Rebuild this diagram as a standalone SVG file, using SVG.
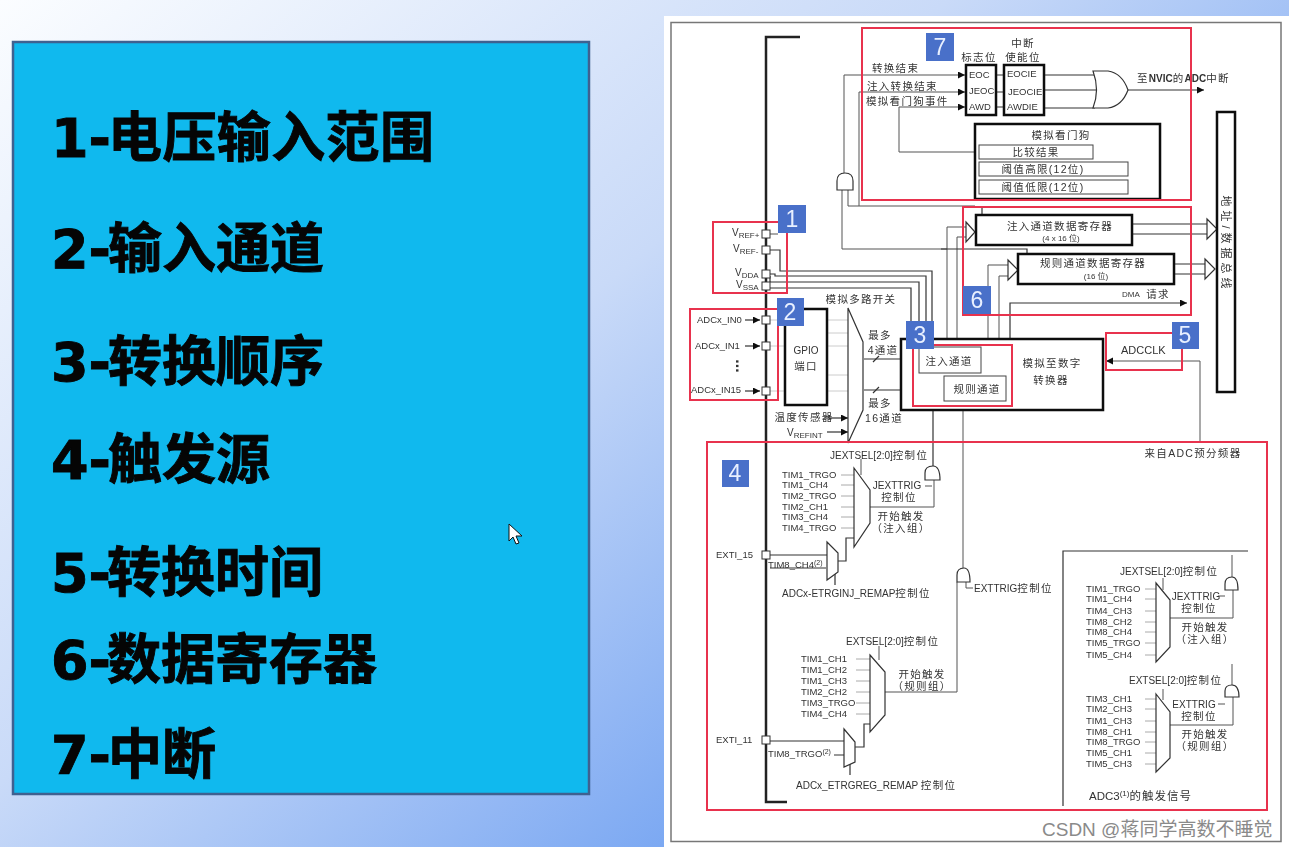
<svg xmlns="http://www.w3.org/2000/svg" width="1289" height="847" viewBox="0 0 1289 847">
<defs>
<linearGradient id="bg" gradientUnits="userSpaceOnUse" x1="0" y1="0" x2="700" y2="847"><stop offset="0" stop-color="#fbfdff"/><stop offset="0.55" stop-color="#c9daf8"/><stop offset="1" stop-color="#78a6f2"/></linearGradient>
<marker id="a" markerWidth="8" markerHeight="8" refX="7" refY="3.5" orient="auto" markerUnits="userSpaceOnUse"><path d="M0,0L7,3.5L0,7z" fill="#111"/></marker>
<filter id="soft" filterUnits="userSpaceOnUse" x="0" y="0" width="1289" height="847"><feGaussianBlur stdDeviation="0.35"/></filter>
</defs>
<style>
.h{font-family:"DejaVu Sans","Noto Sans CJK SC",sans-serif;font-weight:700;font-size:54px;fill:#050505;stroke:#050505;stroke-width:.9px}
text{font-family:"Liberation Sans","Noto Sans CJK SC",sans-serif;fill:#333}
.t{font-size:9.5px}.s{font-size:10px}
.c{font-size:10.500px;text-anchor:middle;letter-spacing:1.300px}
.e{font-size:10px;text-anchor:middle}
.z{font-size:10.500px;letter-spacing:1.300px}
.bd{font-family:"Liberation Sans",sans-serif;font-size:23px;fill:#e8f0ff;text-anchor:middle}
.r{fill:none;stroke:#e8324e;stroke-width:2}
.b{fill:#fff;stroke:#111;stroke-width:2.500}
.b1{fill:#fff;stroke:#444;stroke-width:1}
.l{fill:none;stroke:#555;stroke-width:1}
.g{fill:none;stroke:#aaa;stroke-width:1}
.f{fill:none;stroke:#ccc;stroke-width:1}
.k{fill:none;stroke:#333;stroke-width:1.200}
.bus{fill:none;stroke:#222;stroke-width:2.500}
.sq{fill:#fff;stroke:#333;stroke-width:1}
.m{fill:#fff;stroke:#333;stroke-width:1.200}
.badge{fill:#4a6fc9}
</style>
<rect width="1289" height="847" fill="url(#bg)"/>
<rect x="664" y="16" width="625" height="831" fill="#fff"/>
<rect x="671" y="22.500" width="610" height="819" fill="#fff" stroke="#777" stroke-width="1.500"/>
<g id="panel">
<rect x="13" y="42" width="576" height="752" fill="#10b9ee" stroke="#3f6190" stroke-width="2.500"/>
<text class="h" x="51" y="157">1-<tspan dx="-3" style="letter-spacing:.4px">电压输入范围</tspan></text>
<text class="h" x="51" y="268">2-<tspan dx="-3">输入通道</tspan></text>
<text class="h" x="51" y="381">3-<tspan dx="-3">转换顺序</tspan></text>
<text class="h" x="51" y="479">4-<tspan dx="-3">触发源</tspan></text>
<text class="h" x="51" y="592">5-<tspan dx="-4">转换时间</tspan></text>
<text class="h" x="51" y="679">6-<tspan dx="-4">数据寄存器</tspan></text>
<text class="h" x="51" y="774">7-<tspan dx="-3">中断</tspan></text>
</g>
<path id="cursor" d="M509,524V541L513,537L516,544L519,543L516,536L522,536z" fill="#fff" stroke="#111"/>
<g id="diagram" filter="url(#soft)">
<g id="connectors">
<path class="bus" d="M800,37H766V802H787"/>
<path class="l" marker-end="url(#a)" d="M844,173V75H965"/>
<path class="l" marker-end="url(#a)" d="M859,206V92H965"/>
<path class="l" marker-end="url(#a)" d="M977,152H899V107H965"/>
<path class="l" d="M842,190V249H947"/>
<path class="l" d="M848,190V206H975"/>
<path class="k" d="M996,75H1004M996,92H1004M996,107H1004"/>
<path class="k" d="M1044,75H1095M1044,90H1098M1044,108H1095"/>
<path class="k" marker-end="url(#a)" d="M1128,90H1204"/>
<path class="k" d="M1132,224H1207M1132,234H1207"/>
<path class="k" d="M1174,264H1206M1174,274H1206"/>
<path class="m" d="M1207,219L1217,229L1207,239z"/>
<path class="m" d="M1205,259L1215,269L1205,279z"/>
<path class="l" d="M947,340V227H966M957,340V237H966"/>
<path class="m" d="M966,222L975,232L966,242z"/>
<path class="l" d="M988,376V265H1008M999,376V276H1008"/>
<path class="m" d="M1008,260L1018,270L1008,280z"/>
<path class="k" d="M941,249H1027V254"/>
<path class="k" d="M982,207V215"/>
<path class="k" marker-end="url(#a)" d="M1010,339V303H1187"/>
<path class="l" marker-end="url(#a)" d="M1200,443V361H1106"/>
<path class="l" d="M770,234H778"/>
<path class="k" d="M770,250H780V271H932V340M770,274H775V276H926V340M770,276V282H919V340M770,288H911V340"/>
<path class="f" d="M770,320H785M770,346H785M770,391H785M827,320H848M827,333H848M827,346H848M827,375H848M827,391H848"/>
<path class="k" marker-end="url(#a)" d="M864,359H918"/>
<path class="k" marker-end="url(#a)" d="M864,390H944"/>
<path class="k" d="M873,362L879,356M873,393L879,387"/>
<path class="k" marker-end="url(#a)" d="M745,320H760"/>
<path class="k" marker-end="url(#a)" d="M745,346H760"/>
<path class="k" marker-end="url(#a)" d="M745,391H760"/>
<path class="k" marker-end="url(#a)" d="M825,418H848"/>
<path class="k" marker-end="url(#a)" d="M827,432H848"/>
<path class="k" marker-end="url(#a)" d="M933,466V373"/>
<path class="l" marker-end="url(#a)" d="M963,570V401"/>
<path class="l" d="M870,507H934V480M925,486H932M861,459V475"/>
<path class="k" d="M770,555H827M770,568H826M838,561H846V538H854M835,572V585"/>
<path class="g" d="M841,475H854M841,485H854M841,496H854M841,507H854M841,517H854M841,528H854"/>
<path class="l" d="M957,582V692H885M966,582V588H973M879,646V660"/>
<path class="g" d="M856,659H870M856,670H870M856,681H870M856,692H870M856,703H870M856,714H870"/>
<path class="k" d="M770,741H844M834,755H844M855,747H864V724H870M850,762V775"/>
<path class="k" d="M1063,806V551H1248"/>
<path class="l" d="M1232,555V577M1233,590V618H1170M1225,596H1218M1163,578V590"/>
<path class="g" d="M1145,589H1156M1145,599H1156M1145,611H1156M1145,622H1156M1145,632H1156M1145,643H1156M1145,655H1156"/>
<path class="l" d="M1232,664V685M1233,697V725H1170M1225,704H1218M1163,689V700"/>
<path class="g" d="M1145,699H1156M1145,709H1156M1145,721H1156M1145,732H1156M1145,742H1156M1145,753H1156M1145,764H1156"/>
</g>
<g id="gates">
<path class="m" d="M837,190V181Q837,173 845,173Q853,173 853,181V190z"/>
<path class="m" d="M925,480V473Q925,466 933,466Q940,466 940,480z"/>
<path class="m" d="M957,582V575Q957,568 964,568Q970,568 970,582z"/>
<path class="m" d="M1225,590V584Q1225,577 1232,577Q1238,577 1238,590z"/>
<path class="m" d="M1225,697V691Q1225,685 1232,685Q1239,685 1239,697z"/>
<path class="m" d="M1093,71H1108Q1122,73 1128,90Q1122,106 1108,108H1093Q1100,90 1093,71z"/>
</g>
<g id="mux">
<path class="m" d="M848,308L863,342V410L848,443z"/>
<path class="m" d="M854,468L870,490V523L854,547z"/>
<path class="m" d="M827,542L838,553V572L827,580z"/>
<path class="m" d="M870,655L885,672V715L870,732z"/>
<path class="m" d="M844,729L855,742V762L844,767z"/>
<path class="m" d="M1156,583L1170,600V647L1156,662z"/>
<path class="m" d="M1156,694L1170,712V758L1156,772z"/>
</g>
<g id="flags">
<rect class="b" x="966" y="65" width="30" height="50"/>
<text class="t" x="969" y="78">EOC</text><text class="t" x="969" y="94">JEOC</text><text class="t" x="969" y="110">AWD</text>
<text class="c" x="979" y="61">标志位</text>
</g>
<g id="enable">
<rect class="b" x="1004" y="65" width="40" height="50"/>
<text class="t" x="1007" y="77">EOCIE</text><text class="t" x="1008" y="95">JEOCIE</text><text class="t" x="1007" y="110">AWDIE</text>
<text class="c" x="1023" y="47">中断</text><text class="c" x="1023" y="61">使能位</text>
</g>
<g id="watchdog">
<rect class="b" x="975" y="124" width="185" height="75"/>
<rect class="b1" x="979" y="145" width="114" height="14"/>
<rect class="b1" x="979" y="162" width="149" height="14"/>
<rect class="b1" x="979" y="180" width="149" height="14"/>
<text class="c" x="1061" y="139">模拟看门狗</text>
<text class="c" x="1036" y="156">比较结果</text>
<text class="c" x="1043" y="173">阈值高限(12位)</text>
<text class="c" x="1043" y="191">阈值低限(12位)</text>
</g>
<g id="busbox">
<rect class="b" x="1217" y="112" width="18" height="280"/>
<text class="c" style="letter-spacing:4px;font-size:11px" transform="translate(1222,244) rotate(90)">地址/数据总线</text>
</g>
<g id="injreg">
<rect class="b" x="976" y="215" width="156" height="30"/>
<text class="c" x="1060" y="230">注入通道数据寄存器</text>
<text class="e" x="1061" y="241" style="font-size:8px">(4 x 16 位)</text>
</g>
<g id="regreg">
<rect class="b" x="1018" y="254" width="156" height="30"/>
<text class="c" x="1093" y="267">规则通道数据寄存器</text>
<text class="e" x="1096" y="279" style="font-size:8px">(16 位)</text>
</g>
<g id="adc">
<rect class="b" x="901" y="339" width="202" height="71"/>
<text class="c" x="1052" y="367">模拟至数字</text><text class="c" x="1051" y="384">转换器</text>
</g>
<g id="injch"><rect class="b1" x="919" y="347" width="62" height="26"/><text class="c" x="949" y="365">注入通道</text></g>
<g id="regch"><rect class="b1" x="944" y="376" width="62" height="25"/><text class="c" x="977" y="393">规则通道</text></g>
<g id="gpio"><rect class="b" x="785" y="309" width="42" height="96"/><text class="e" x="806" y="354">GPIO</text><text class="c" x="806" y="370">端口</text></g>
<g id="pins">
<rect class="sq" x="762" y="230" width="8" height="8"/><rect class="sq" x="762" y="246" width="8" height="8"/><rect class="sq" x="762" y="270" width="8" height="8"/><rect class="sq" x="762" y="282" width="8" height="8"/>
<rect class="sq" x="762" y="316" width="8" height="8"/><rect class="sq" x="762" y="342" width="8" height="8"/><rect class="sq" x="762" y="387" width="8" height="8"/><rect class="sq" x="762" y="551" width="8" height="8"/><rect class="sq" x="762" y="736" width="8" height="8"/>
</g>
<g id="labels">
<text class="s" x="732" y="236">V<tspan font-size="8" dy="2">REF+</tspan></text>
<text class="s" x="733" y="252">V<tspan font-size="8" dy="2">REF-</tspan></text>
<text class="s" x="735" y="276">V<tspan font-size="8" dy="2">DDA</tspan></text>
<text class="s" x="736" y="288">V<tspan font-size="8" dy="2">SSA</tspan></text>
<text class="t" x="697" y="323">ADCx_IN0</text><text class="t" x="695" y="349">ADCx_IN1</text><text class="t" x="691" y="393">ADCx_IN15</text>
<text x="736" y="366" style="font-size:16px;font-weight:700;text-anchor:middle" transform="rotate(90 736 366)">...</text>
<text class="c" x="861" y="303">模拟多路开关</text>
<text class="c" x="880" y="339">最多</text><text class="c" x="883" y="354">4通道</text>
<text class="c" x="880" y="407">最多</text><text class="c" x="884" y="422">16通道</text>
<text class="c" x="804" y="421">温度传感器</text>
<text class="s" x="787" y="436">V<tspan font-size="8" dy="2">REFINT</tspan></text>
<text class="t" x="1121" y="354" style="font-size:11px">ADCCLK</text>
<text class="t" x="1122" y="297" style="font-size:8px">DMA</text><text class="c" x="1158" y="298">请求</text>
<text class="z" x="872" y="72">转换结束</text>
<text class="z" x="867" y="90">注入转换结束</text>
<text class="z" x="866" y="105">模拟看门狗事件</text>
<text class="s" x="1137" y="82"><tspan class="z">至</tspan><tspan font-weight="700">NVIC</tspan><tspan class="z">的</tspan><tspan font-weight="700">ADC</tspan><tspan class="z">中断</tspan></text>
<text class="c" x="1193" y="457">来自ADC预分频器</text>
</g>
<g id="trig">
<text class="s" x="830" y="459">JEXTSEL[2:0]<tspan class="z">控制位</tspan></text>
<text class="t" x="782" y="478">TIM1_TRGO</text><text class="t" x="782" y="488">TIM1_CH4</text><text class="t" x="782" y="499">TIM2_TRGO</text><text class="t" x="782" y="510">TIM2_CH1</text><text class="t" x="782" y="520">TIM3_CH4</text><text class="t" x="782" y="531">TIM4_TRGO</text>
<text class="e" x="897" y="489">JEXTTRIG</text><text class="c" x="899" y="501">控制位</text>
<text class="c" x="901" y="520">开始触发</text><text class="c" x="901" y="532">（注入组）</text>
<text class="t" x="716" y="558">EXTI_15</text>
<text class="t" x="768" y="568">TIM8_CH4<tspan font-size="7" dy="-3">(2)</tspan></text>
<text class="s" x="782" y="597">ADCx-ETRGINJ_REMAP<tspan class="z">控制位</tspan></text>
<text class="s" x="974" y="592">EXTTRIG<tspan class="z">控制位</tspan></text>
<text class="s" x="846" y="645">EXTSEL[2:0]<tspan class="z">控制位</tspan></text>
<text class="t" x="801" y="662">TIM1_CH1</text><text class="t" x="801" y="673">TIM1_CH2</text><text class="t" x="801" y="684">TIM1_CH3</text><text class="t" x="801" y="695">TIM2_CH2</text><text class="t" x="801" y="706">TIM3_TRGO</text><text class="t" x="801" y="717">TIM4_CH4</text>
<text class="c" x="922" y="678">开始触发</text><text class="c" x="922" y="690">（规则组）</text>
<text class="t" x="716" y="743">EXTI_11</text>
<text class="t" x="768" y="757">TIM8_TRGO<tspan font-size="7" dy="-3">(2)</tspan></text>
<text class="s" x="796" y="789">ADCx_ETRGREG_REMAP <tspan class="z">控制位</tspan></text>
<text class="s" x="1120" y="575">JEXTSEL[2:0]<tspan class="z">控制位</tspan></text>
<text class="t" x="1086" y="592">TIM1_TRGO</text><text class="t" x="1086" y="602">TIM1_CH4</text><text class="t" x="1086" y="614">TIM4_CH3</text><text class="t" x="1086" y="625">TIM8_CH2</text><text class="t" x="1086" y="635">TIM8_CH4</text><text class="t" x="1086" y="646">TIM5_TRGO</text><text class="t" x="1086" y="658">TIM5_CH4</text>
<text class="e" x="1196" y="600">JEXTTRIG</text><text class="c" x="1199" y="612">控制位</text>
<text class="c" x="1205" y="631">开始触发</text><text class="c" x="1205" y="643">（注入组）</text>
<text class="s" x="1129" y="684">EXTSEL[2:0]<tspan class="z">控制位</tspan></text>
<text class="t" x="1086" y="702">TIM3_CH1</text><text class="t" x="1086" y="712">TIM2_CH3</text><text class="t" x="1086" y="724">TIM1_CH3</text><text class="t" x="1086" y="735">TIM8_CH1</text><text class="t" x="1086" y="745">TIM8_TRGO</text><text class="t" x="1086" y="756">TIM5_CH1</text><text class="t" x="1086" y="767">TIM5_CH3</text>
<text class="e" x="1194" y="708">EXTTRIG</text><text class="c" x="1199" y="720">控制位</text>
<text class="c" x="1205" y="738">开始触发</text><text class="c" x="1205" y="750">（规则组）</text>
<text x="1089" y="800" style="font-size:11.500px">ADC3<tspan font-size="8" dy="-4">(1)</tspan><tspan dy="4" style="letter-spacing:1px">的触发信号</tspan></text>
</g>
<g id="redboxes">
<rect class="r" x="862" y="28" width="329" height="172"/>
<rect class="r" x="963" y="207" width="228" height="108"/>
<rect class="r" x="713" y="222" width="74" height="71"/>
<rect class="r" x="690" y="309" width="88" height="91"/>
<rect class="r" x="913" y="345" width="99" height="61"/>
<rect class="r" x="1106" y="333" width="76" height="37"/>
<rect class="r" x="707" y="442" width="560" height="368"/>
</g>
<g id="badges">
<g id="b1"><rect class="badge" x="778" y="205" width="28" height="28"/><text class="bd" x="792" y="227">1</text></g>
<g id="b2"><rect class="badge" x="777" y="298" width="27" height="28"/><text class="bd" x="790" y="320">2</text></g>
<g id="b3"><rect class="badge" x="906" y="321" width="28" height="28"/><text class="bd" x="920" y="343">3</text></g>
<g id="b4"><rect class="badge" x="722" y="460" width="27" height="27"/><text class="bd" x="735" y="481">4</text></g>
<g id="b5"><rect class="badge" x="1172" y="322" width="27" height="27"/><text class="bd" x="1185" y="343">5</text></g>
<g id="b6"><rect class="badge" x="963" y="286" width="28" height="28"/><text class="bd" x="977" y="308">6</text></g>
<g id="b7"><rect class="badge" x="926" y="33" width="28" height="28"/><text class="bd" x="940" y="55">7</text></g>
</g>
</g>
<text id="watermark" x="1042" y="836" style="font-size:19px;fill:#8a8a8a">CSDN @蒋同学高数不睡觉</text>
</svg>
